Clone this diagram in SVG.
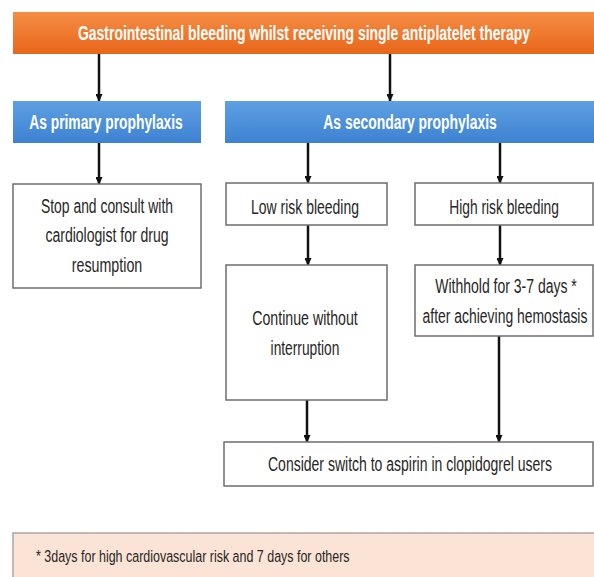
<svg xmlns="http://www.w3.org/2000/svg" width="594" height="577" viewBox="0 0 594 577">
<style>
.t{font-family:"Liberation Sans Narrow","Liberation Sans",Arial,sans-serif;font-size:20px;fill:#262626;text-anchor:middle}
.w{font-family:"Liberation Sans Narrow","Liberation Sans",Arial,sans-serif;font-size:21px;fill:#ffffff;font-weight:bold;text-anchor:middle}
.box{fill:#ffffff;stroke:#6e6e6e;stroke-width:1.5}
.c{stroke:#111;stroke-width:2.5;fill:none}
</style>
<defs>
<linearGradient id="og" x1="0" y1="0" x2="0" y2="1"><stop offset="0" stop-color="#f58e45"/><stop offset="1" stop-color="#e8661a"/></linearGradient>
<linearGradient id="bg" x1="0" y1="0" x2="0" y2="1"><stop offset="0" stop-color="#5fa0e2"/><stop offset="1" stop-color="#3d82d2"/></linearGradient>
<marker id="a" markerWidth="8" markerHeight="7" refX="7" refY="3.5" orient="auto" markerUnits="userSpaceOnUse">
<path d="M0,0 L8,3.5 L0,7 Z" fill="#111"/>
</marker>
</defs>
<rect width="594" height="577" fill="#ffffff"/>
<g id="connectors">
<line class="c" x1="99" y1="54" x2="99" y2="101" marker-end="url(#a)"/>
<line class="c" x1="390" y1="54" x2="390" y2="101" marker-end="url(#a)"/>
<line class="c" x1="99" y1="143" x2="99" y2="184" marker-end="url(#a)"/>
<line class="c" x1="308" y1="143" x2="308" y2="183" marker-end="url(#a)"/>
<line class="c" x1="500" y1="143" x2="500" y2="183" marker-end="url(#a)"/>
<line class="c" x1="308" y1="225" x2="308" y2="265" marker-end="url(#a)"/>
<line class="c" x1="500" y1="225" x2="500" y2="265" marker-end="url(#a)"/>
<line class="c" x1="307" y1="400" x2="307" y2="442" marker-end="url(#a)"/>
<line class="c" x1="499" y1="336" x2="499" y2="442" stroke-width="4" marker-end="url(#a)"/>
</g>
<g id="top">
<rect x="13" y="12" width="582" height="42" fill="url(#og)"/>
<g transform="translate(304 40) scale(0.8 1)"><text class="w" x="0" y="0" textLength="565" lengthAdjust="spacingAndGlyphs">Gastrointestinal bleeding whilst receiving single antiplatelet therapy</text></g>
</g>
<g id="primary">
<rect x="13" y="101" width="188" height="42" fill="url(#bg)"/>
<g transform="translate(106 129) scale(0.8 1)"><text class="w" x="0" y="0" textLength="192" lengthAdjust="spacingAndGlyphs">As primary prophylaxis</text></g>
</g>
<g id="secondary">
<rect x="225" y="101" width="370" height="42" fill="url(#bg)"/>
<g transform="translate(410 129) scale(0.8 1)"><text class="w" x="0" y="0" textLength="217" lengthAdjust="spacingAndGlyphs">As secondary prophylaxis</text></g>
</g>
<g id="stop">
<rect class="box" x="13" y="184" width="188" height="104"/>
<g transform="translate(107 213) scale(0.8 1)"><text class="t" x="0" y="0" textLength="165" lengthAdjust="spacingAndGlyphs">Stop and consult with</text></g>
<g transform="translate(107 242) scale(0.8 1)"><text class="t" x="0" y="0" textLength="154" lengthAdjust="spacingAndGlyphs">cardiologist for drug</text></g>
<g transform="translate(107 272) scale(0.8 1)"><text class="t" x="0" y="0" textLength="88" lengthAdjust="spacingAndGlyphs">resumption</text></g>
</g>
<g id="low">
<rect class="box" x="226" y="183" width="161" height="42"/>
<g transform="translate(305 214) scale(0.8 1)"><text class="t" x="0" y="0" textLength="135" lengthAdjust="spacingAndGlyphs">Low risk bleeding</text></g>
</g>
<g id="high">
<rect class="box" x="415" y="183" width="178" height="42"/>
<g transform="translate(504 214) scale(0.8 1)"><text class="t" x="0" y="0" textLength="137" lengthAdjust="spacingAndGlyphs">High risk bleeding</text></g>
</g>
<g id="continue">
<rect class="box" x="226" y="265" width="161" height="135"/>
<g transform="translate(305 325) scale(0.8 1)"><text class="t" x="0" y="0" textLength="132" lengthAdjust="spacingAndGlyphs">Continue without</text></g>
<g transform="translate(305 355) scale(0.8 1)"><text class="t" x="0" y="0" textLength="86" lengthAdjust="spacingAndGlyphs">interruption</text></g>
</g>
<g id="withhold">
<rect class="box" x="415" y="265" width="178" height="71"/>
<g transform="translate(506 293) scale(0.8 1)"><text class="t" x="0" y="0" textLength="177" lengthAdjust="spacingAndGlyphs">Withhold for 3-7 days *</text></g>
<g transform="translate(505 323) scale(0.8 1)"><text class="t" x="0" y="0" textLength="206" lengthAdjust="spacingAndGlyphs">after achieving hemostasis</text></g>
</g>
<g id="consider">
<rect class="box" x="224" y="442" width="369" height="44"/>
<g transform="translate(410 471) scale(0.8 1)"><text class="t" x="0" y="0" textLength="355" lengthAdjust="spacingAndGlyphs">Consider switch to aspirin in clopidogrel users</text></g>
</g>
<g id="footnote">
<rect x="13" y="533" width="583" height="46" fill="#fbe3d5" stroke="#a8a8a8" stroke-width="1.5"/>
<g transform="translate(36 562) scale(0.8 1)"><text class="t" x="0" y="0" style="text-anchor:start;font-size:17px" textLength="392" lengthAdjust="spacingAndGlyphs">* 3days for high cardiovascular risk and 7 days for others</text></g>
</g>
</svg>
